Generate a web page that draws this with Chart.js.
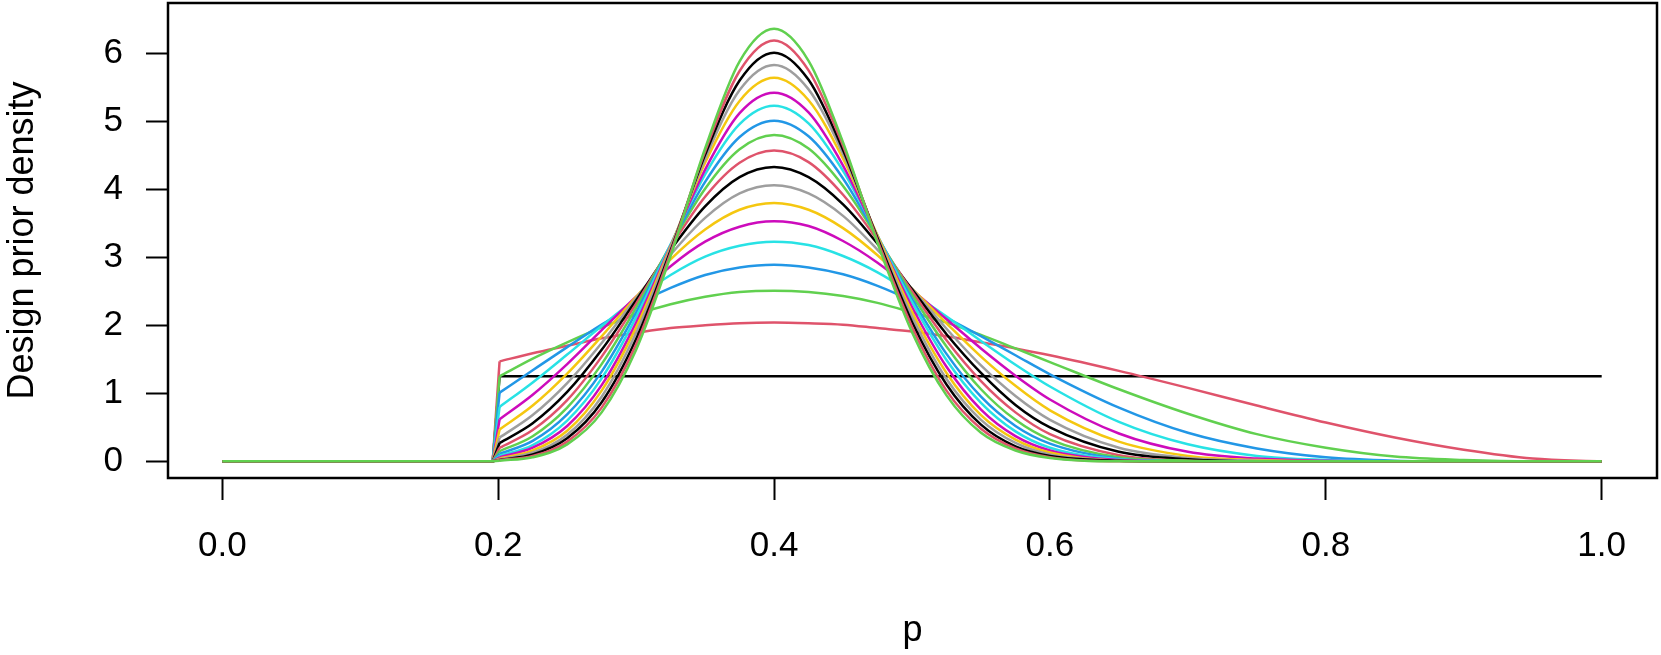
<!DOCTYPE html>
<html>
<head>
<meta charset="utf-8">
<title>Design prior density</title>
<script src="https://cdn.jsdelivr.net/npm/chart.js@4.4.0/dist/chart.umd.min.js"></script>
<style>
  html, body { margin: 0; padding: 0; background: #ffffff; }
  #wrap { width: 1661px; height: 655px; }
</style>
</head>
<body>
<div id="wrap"><canvas id="chart" width="1661" height="655"></canvas></div>
<script>
// x positions of the readings (the first one sits just after the jump at p = 0.2)
const pGrid = [0.201, 0.225, 0.25, 0.275, 0.3, 0.325, 0.35, 0.375, 0.4, 0.425, 0.45, 0.475,
               0.5, 0.525, 0.55, 0.575, 0.6, 0.65, 0.7, 0.75, 0.8, 0.85, 0.9, 0.95, 1.0];
// density is zero below the truncation point
const pZero = [0, 0.196];

// design prior densities, one array per curve
const dens00 = [1.25, 1.25, 1.25, 1.25, 1.25, 1.25, 1.25, 1.25, 1.25, 1.25, 1.25, 1.25, 1.25, 1.25, 1.25, 1.25, 1.25, 1.25, 1.25, 1.25, 1.25, 1.25, 1.25, 1.25, 1.25];
const dens01 = [1.47, 1.59, 1.70, 1.81, 1.89, 1.96, 2.00, 2.03, 2.04, 2.03, 2.01, 1.96, 1.91, 1.84, 1.75, 1.66, 1.56, 1.33, 1.08, 0.82, 0.57, 0.35, 0.17, 0.04, 0];
const dens02 = [1.25, 1.51, 1.75, 1.97, 2.16, 2.31, 2.42, 2.49, 2.51, 2.49, 2.43, 2.33, 2.19, 2.04, 1.86, 1.66, 1.46, 1.06, 0.70, 0.40, 0.20, 0.07, 0.02, 0, 0];
const dens03 = [1.01, 1.34, 1.68, 2.01, 2.31, 2.55, 2.74, 2.85, 2.89, 2.85, 2.75, 2.58, 2.36, 2.11, 1.84, 1.56, 1.28, 0.79, 0.42, 0.19, 0.06, 0.01, 0, 0, 0];
const dens04 = [0.80, 1.16, 1.57, 1.99, 2.39, 2.74, 3.01, 3.17, 3.23, 3.18, 3.02, 2.78, 2.47, 2.13, 1.77, 1.42, 1.10, 0.58, 0.25, 0.08, 0.02, 0, 0, 0, 0];
const dens05 = [0.62, 0.98, 1.43, 1.93, 2.42, 2.87, 3.23, 3.45, 3.53, 3.46, 3.24, 2.92, 2.52, 2.09, 1.66, 1.26, 0.91, 0.41, 0.14, 0.04, 0.01, 0, 0, 0, 0];
const dens06 = [0.47, 0.82, 1.29, 1.84, 2.42, 2.97, 3.41, 3.70, 3.80, 3.70, 3.43, 3.03, 2.54, 2.03, 1.54, 1.11, 0.75, 0.29, 0.08, 0.02, 0, 0, 0, 0, 0];
const dens07 = [0.35, 0.68, 1.15, 1.74, 2.40, 3.04, 3.58, 3.94, 4.06, 3.94, 3.61, 3.11, 2.54, 1.95, 1.41, 0.96, 0.61, 0.20, 0.05, 0.01, 0, 0, 0, 0, 0];
const dens08 = [0.27, 0.56, 1.02, 1.64, 2.37, 3.11, 3.75, 4.18, 4.33, 4.18, 3.78, 3.20, 2.53, 1.87, 1.30, 0.83, 0.50, 0.14, 0.03, 0, 0, 0, 0, 0, 0];
const dens09 = [0.20, 0.46, 0.90, 1.54, 2.32, 3.15, 3.89, 4.39, 4.57, 4.40, 3.92, 3.25, 2.50, 1.78, 1.18, 0.72, 0.40, 0.09, 0.01, 0, 0, 0, 0, 0, 0];
const dens10 = [0.15, 0.37, 0.79, 1.43, 2.26, 3.18, 4.01, 4.59, 4.80, 4.60, 4.05, 3.29, 2.45, 1.69, 1.06, 0.61, 0.32, 0.06, 0.01, 0, 0, 0, 0, 0, 0];
const dens11 = [0.11, 0.30, 0.69, 1.32, 2.19, 3.18, 4.11, 4.77, 5.01, 4.78, 4.16, 3.30, 2.39, 1.58, 0.95, 0.52, 0.26, 0.04, 0, 0, 0, 0, 0, 0, 0];
const dens12 = [0.08, 0.24, 0.60, 1.22, 2.12, 3.19, 4.22, 4.96, 5.23, 4.97, 4.27, 3.32, 2.34, 1.49, 0.86, 0.44, 0.20, 0.03, 0, 0, 0, 0, 0, 0, 0];
const dens13 = [0.06, 0.20, 0.52, 1.12, 2.04, 3.17, 4.29, 5.12, 5.42, 5.13, 4.35, 3.31, 2.27, 1.39, 0.76, 0.37, 0.16, 0.02, 0, 0, 0, 0, 0, 0, 0];
const dens14 = [0.04, 0.16, 0.45, 1.04, 1.97, 3.16, 4.39, 5.30, 5.64, 5.31, 4.45, 3.32, 2.20, 1.30, 0.68, 0.32, 0.13, 0.01, 0, 0, 0, 0, 0, 0, 0];
const dens15 = [0.03, 0.13, 0.39, 0.95, 1.89, 3.14, 4.45, 5.46, 5.83, 5.47, 4.52, 3.30, 2.13, 1.21, 0.61, 0.27, 0.10, 0.01, 0, 0, 0, 0, 0, 0, 0];
const dens16 = [0.02, 0.10, 0.34, 0.87, 1.80, 3.10, 4.51, 5.60, 6.01, 5.61, 4.58, 3.28, 2.05, 1.13, 0.54, 0.22, 0.08, 0.01, 0, 0, 0, 0, 0, 0, 0];
const dens17 = [0.02, 0.08, 0.29, 0.79, 1.72, 3.07, 4.56, 5.74, 6.19, 5.75, 4.64, 3.25, 1.98, 1.04, 0.48, 0.19, 0.06, 0, 0, 0, 0, 0, 0, 0, 0];
const dens18 = [0.01, 0.06, 0.25, 0.72, 1.64, 3.02, 4.60, 5.88, 6.36, 5.89, 4.69, 3.21, 1.90, 0.97, 0.42, 0.16, 0.05, 0, 0, 0, 0, 0, 0, 0, 0];

const xTicks = [0, 0.2, 0.4, 0.6, 0.8, 1.0];
const yTicks = [0, 1, 2, 3, 4, 5, 6];

// R default palette, used in turn
const rPalette = ['#000000', '#DF536B', '#61D04F', '#2297E6', '#28E2E5', '#CD0BBC', '#F5C710', '#9E9E9E'];

const curves = [dens00, dens01, dens02, dens03, dens04, dens05, dens06, dens07, dens08, dens09,
                dens10, dens11, dens12, dens13, dens14, dens15, dens16, dens17, dens18];

const FONT = "'Liberation Sans', Arial, Helvetica, sans-serif";
const LW = 2.5;

let datasets = [];
curves.forEach((dens, j) => {
  const col = rPalette[j % rPalette.length];
  // later curves sit on top, like in base R
  const ord = curves.length - 1 - j;
  datasets.push({
    data: pGrid.map((p, i) => ({x: p, y: dens[i]})),
    borderColor: col,
    borderWidth: LW,
    cubicInterpolationMode: 'monotone',
    pointRadius: 0,
    order: ord
  });
  // flat zero part and the jump at the truncation point
  datasets.push({
    data: [{x: pZero[0], y: 0}, {x: pZero[1], y: 0}, {x: pGrid[0], y: dens[0]}],
    borderColor: col,
    borderWidth: LW,
    tension: 0,
    pointRadius: 0,
    order: ord
  });
});

const boxPlugin = {
  id: 'box',
  afterDraw(chart) {
    const a = chart.chartArea;
    const c = chart.ctx;
    c.save();
    c.strokeStyle = '#000';
    c.lineWidth = LW;
    c.strokeRect(a.left, a.top, a.right - a.left, a.bottom - a.top);
    c.restore();
  }
};

const config = {
  type: 'line',
  data: { datasets: datasets },
  options: {
    responsive: false,
    animation: false,
    devicePixelRatio: 1,
    layout: { padding: { left: 0, right: 4, top: 3, bottom: 0 } },
    plugins: {
      legend: { display: false },
      tooltip: { enabled: false }
    },
    elements: { point: { radius: 0 } },
    scales: {
      x: {
        type: 'linear',
        min: -0.0394,
        max: 1.0401,
        afterFit: s => { s.height = 177; s.paddingLeft = 0; s.paddingRight = 0; },
        afterBuildTicks: s => { s.ticks = xTicks.map(v => ({value: v})); },
        ticks: {
          callback: v => Number(v).toFixed(1),
          font: { family: FONT, size: 35 },
          color: '#000',
          padding: 25,
          maxRotation: 0,
          autoSkip: false
        },
        grid: { drawOnChartArea: false, drawTicks: true, tickLength: 22, tickColor: '#000', tickWidth: 2, color: '#000' },
        border: { display: false },
        title: {
          display: true,
          text: 'p',
          color: '#000',
          font: { family: FONT, size: 36 },
          padding: { top: 0, bottom: 2.5 }
        }
      },
      y: {
        type: 'linear',
        min: -0.245,
        max: 6.74,
        afterFit: s => { s.width = 168; s.paddingTop = 0; s.paddingBottom = 0; },
        afterBuildTicks: s => { s.ticks = yTicks.map(v => ({value: v})); },
        ticks: {
          callback: v => String(v),
          font: { family: FONT, size: 35 },
          color: '#000',
          padding: 23,
          autoSkip: false
        },
        grid: { drawOnChartArea: false, drawTicks: true, tickLength: 22, tickColor: '#000', tickWidth: 2, color: '#000' },
        border: { display: false },
        title: {
          display: true,
          text: 'Design prior density',
          color: '#000',
          font: { family: FONT, size: 36, lineHeight: 1.2 },
          padding: { top: 1, bottom: 0 }
        }
      }
    }
  },
  plugins: [boxPlugin]
};

const myChart = new Chart(document.getElementById('chart'), config);
</script>
</body>
</html>
